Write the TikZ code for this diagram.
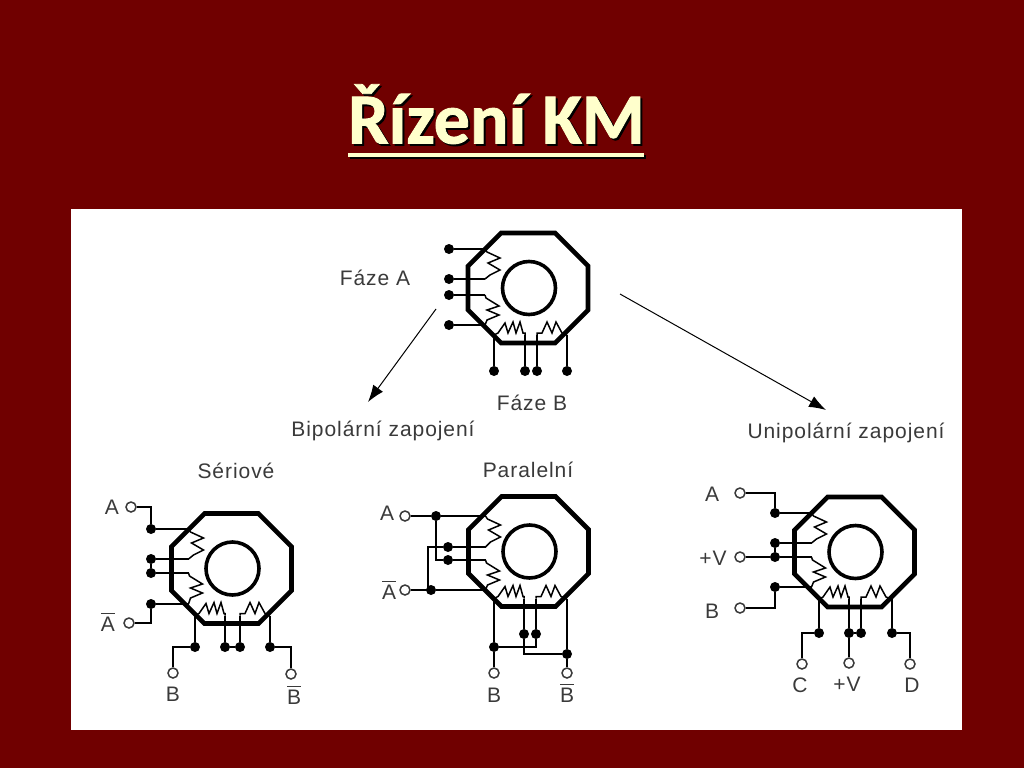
\documentclass[tikz,border=0pt]{standalone}
\usepackage{fontspec}
\setmainfont[LetterSpace=4.5]{Liberation Sans}
\newfontfamily\titlefont{Carlito}[UprightFont=* Bold,FakeBold=1.2]
\usetikzlibrary{arrows.meta}
\definecolor{bgred}{HTML}{700000}
\definecolor{cream}{HTML}{FFFFCC}
\definecolor{ink}{HTML}{3A3A3A}
\newcommand\ovl[1]{\vbox{\hrule height 1.3pt\kern2.5pt\hbox{#1}}}
% pins #11..#18 must exist already
\newcommand\motor[3]{%
 \begin{scope}[shift={(#2,#3)}]
  \coordinate (#1XL) at (-43,0); \coordinate (#1YB) at (0,47);
  \coordinate (#1a1) at (#11 -| #1XL); \coordinate (#1a2) at (#12 -| #1XL);
  \coordinate (#1a3) at (#13 -| #1XL); \coordinate (#1a4) at (#14 -| #1XL);
  \coordinate (#1b1) at (#15 |- #1YB); \coordinate (#1b2) at (#16 |- #1YB);
  \coordinate (#1b3) at (#17 |- #1YB); \coordinate (#1b4) at (#18 |- #1YB);
  \draw[housing] (-27,-55) -- (27,-55) -- (60,-22) -- (60,22) -- (27,55) -- (-27,55) -- (-60,22) -- (-60,-22) -- cycle;
  \draw[rotorline] (1,0) circle (26.5);
 \end{scope}
 \begin{scope}[shift={(#1a1)}]
  \draw[wire] (0,0) -- (2,3) -- (15,9) -- (3,14) -- (15,21) -- (5,26) -- (#1a2);
 \end{scope}
 \begin{scope}[shift={(#1a3)}]
  \draw[wire] (0,0) -- (1,3) -- (14,11) -- (2,15) -- (14,20) -- (2,25) -- (#1a4);
 \end{scope}
 \begin{scope}[shift={(#1b1)}]
  \draw[wire] (0,0) -- (4,-2) -- (11,-12) -- (14,-2) -- (19,-13) -- (22,-2) -- (26,-13) -- (29,-2) -- (#1b2 |- 0,-2) -- (#1b2);
 \end{scope}
 \begin{scope}[shift={(#1b3)}]
  \draw[wire] (0,0) -- (0,-2) -- (5,-2) -- (10,-13) -- (15,-2) -- (19,-13) -- (25,-2) -- (#1b4);
 \end{scope}
 \draw[wire] (#11) -- (#1a1); \draw[wire] (#12) -- (#1a2);
 \draw[wire] (#13) -- (#1a3); \draw[wire] (#14) -- (#1a4);
 \draw[wire] (#15) -- (#1b1); \draw[wire] (#16) -- (#1b2);
 \draw[wire] (#17) -- (#1b3); \draw[wire] (#18) -- (#1b4);
}
\tikzset{
 housing/.style={line width=4.6pt,black,line join=miter},
 rotorline/.style={line width=3.6pt,black},
 wire/.style={line width=1.5pt,black},
 pin/.style={circle,fill=black,inner sep=0pt,minimum size=10pt},
 port/.style={circle,draw=ink,fill=white,line width=1.5pt,inner sep=0pt,minimum size=10pt},
 lab/.style={text=ink,font=\fontsize{21}{25}\selectfont,inner sep=0pt},
 pointer/.style={line width=1pt,black,-{Latex[length=17pt,width=12pt]}},
 titletext/.style={font=\titlefont\fontsize{72}{78}\selectfont,anchor=base,inner sep=0pt},
}
\begin{document}
\begin{tikzpicture}[x=1pt,y=-1pt]
\useasboundingbox (0,0) rectangle (1024,768);
\fill[bgred] (0,0) rectangle (1024,768);
\fill[white] (71,209) rectangle (962,730);
% title
\node[text=black,titletext] (titleshadow) at (498.5,145.5) {Řízení KM};
\node[text=cream,titletext] (title) at (496.5,143.5) {Řízení KM};
\fill[black] (350,155) rectangle (646,159);
\fill[cream] (348,153) rectangle (644,157);
% top motor
\node[pin] (t1) at (449,249) {}; \node[pin] (t2) at (449,279) {};
\node[pin] (t3) at (449,295) {}; \node[pin] (t4) at (449,325) {};
\node[pin] (t5) at (494,371) {}; \node[pin] (t6) at (525,371) {};
\node[pin] (t7) at (537,371) {}; \node[pin] (t8) at (567,371) {};
\motor{t}{528}{288}
\node[lab] (fa) at (375,278) {Fáze A};
\node[lab] (fb) at (532,403) {Fáze B};
\node[lab] (bip) at (383,431) {Bipolární zapojení};
\node[lab] (uni) at (846,433) {Unipolární zapojení};
\coordinate (arrL) at (436,309); \coordinate (arrLe) at (368,402);
\coordinate (arrR) at (620,294); \coordinate (arrRe) at (826,410);
\draw[pointer] (arrL) -- (arrLe);
\draw[pointer] (arrR) -- (arrRe);
% series
\node[lab] (sl) at (236,471) {Sériové};
\node[pin] (s1) at (151,529) {}; \node[pin] (s2) at (151,559) {};
\node[pin] (s3) at (151,573) {}; \node[pin] (s4) at (151,604) {};
\node[pin] (s5) at (195,647) {}; \node[pin] (s6) at (225,647) {};
\node[pin] (s7) at (240,647) {}; \node[pin] (s8) at (270,647) {};
\motor{s}{231.5}{568.5}
\node[port] (sA) at (131,507) {}; \node[port] (sAb) at (129,623) {};
\node[port] (sB) at (173,673) {}; \node[port] (sBb) at (291,674) {};
\draw[wire] (s2) -- (s3); \draw[wire] (s6) -- (s7);
\draw[wire] (sA) -| (s1); \draw[wire] (sAb) -| (s4);
\draw[wire] (s5) -| (sB); \draw[wire] (s8) -| (sBb);
\node[lab] (slA) at (112,507) {A};
\node[lab] (slAb) at (108,622) {\ovl{A}};
\node[lab] (slB) at (173,694) {B};
\node[lab] (slBb) at (294,695) {\ovl{B}};
% parallel
\node[lab] (pl) at (528,470) {Paralelní};
\node[pin] (p1) at (436,516) {}; \node[pin] (p2) at (448,547) {};
\node[pin] (p3) at (448,560) {}; \node[pin] (p4) at (431,590) {};
\node[pin] (p5) at (494,647) {}; \node[pin] (p6) at (524,634) {};
\node[pin] (p7) at (536,634) {}; \node[pin] (p8) at (567,654) {};
\motor{p}{528.5}{551.5}
\node[port] (pA) at (405,516) {}; \node[port] (pAb) at (405,590) {};
\node[port] (pB) at (494,673) {}; \node[port] (pBb) at (567,673) {};
\draw[wire] (pA) -- (p1); \draw[wire] (pAb) -- (p4);
\draw[wire] (p1) |- (p3);
\coordinate (pj) at (428,547);
\draw[wire] (p2) -- (pj) |- (p4);
\draw[wire] (p5) -- (pB); \draw[wire] (p8) -- (pBb);
\draw[wire] (p5) -| (p7);
\draw[wire] (p6) |- (p8);
\node[lab] (plA) at (387,513) {A};
\node[lab] (plAb) at (389,590) {\ovl{A}};
\node[lab] (plB) at (494,695) {B};
\node[lab] (plBb) at (567,693) {\ovl{B}};
% unipolar
\node[pin] (u1) at (775,513) {}; \node[pin] (u2) at (775,543) {};
\node[pin] (u3) at (775,557) {}; \node[pin] (u4) at (775,587) {};
\node[pin] (u5) at (819,633) {}; \node[pin] (u6) at (849,633) {};
\node[pin] (u7) at (861,633) {}; \node[pin] (u8) at (892,633) {};
\motor{u}{854.5}{552}
\node[port] (uA) at (740,493) {}; \node[port] (uV) at (740,557) {};
\node[port] (uB) at (740,608) {}; \node[port] (uC) at (802,664) {};
\node[port] (uV2) at (849,663) {}; \node[port] (uD) at (910,664) {};
\draw[wire] (uA) -| (u1); \draw[wire] (uV) -- (u3); \draw[wire] (uB) -| (u4); \draw[wire] (u2) -- (u3);
\draw[wire] (u5) -| (uC); \draw[wire] (u6) -- (uV2); \draw[wire] (u8) -| (uD); \draw[wire] (u6) -- (u7);
\node[lab] (ulA) at (712,494) {A};
\node[lab] (ulV) at (713,558) {+V};
\node[lab] (ulB) at (712,611) {B};
\node[lab] (ulC) at (800,685) {C};
\node[lab] (ulV2) at (847,684) {+V};
\node[lab] (ulD) at (912,685) {D};
\end{tikzpicture}
\end{document}
